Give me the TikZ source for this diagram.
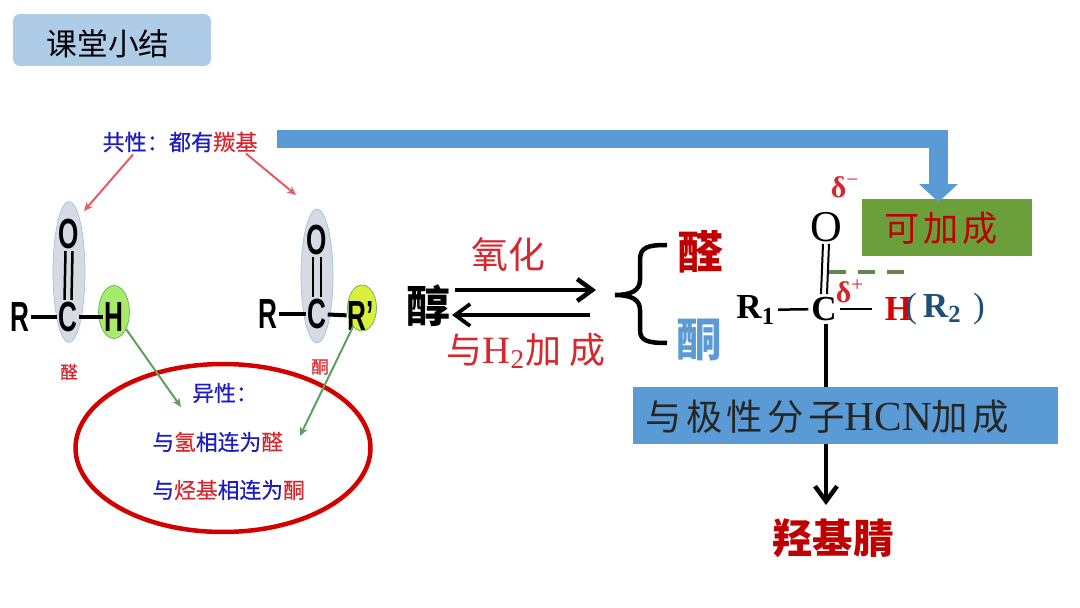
\documentclass[tikz,border=0pt]{standalone}
\usepackage{fontspec}
\setmainfont{Liberation Serif}
\setsansfont{Liberation Sans}
\newfontfamily\cjk{Noto Sans CJK SC}
\newfontfamily\cjkwide[LetterSpace=12]{Noto Sans CJK SC}
\newfontfamily\cjkfat[FakeBold=0.5]{Noto Sans CJK SC}
\usepackage{xcolor}
\usetikzlibrary{arrows.meta, positioning, shapes.geometric, calc}
\definecolor{BarBlue}{HTML}{5B9BD5}
\definecolor{TitleBlue}{HTML}{AECBE8}
\definecolor{BoxGreen}{HTML}{6B9F3C}
\definecolor{DeepRed}{HTML}{C00000}
\definecolor{InkBlue}{HTML}{1C1CC0}
\definecolor{InkRed}{HTML}{D8262E}
\definecolor{HBlue}{HTML}{1F4E79}
\definecolor{OvalGrey}{HTML}{D6DAE2}
\definecolor{LimeH}{HTML}{A8EA6C}
\definecolor{LimeR}{HTML}{D8F03C}
\definecolor{ArrowGreen}{HTML}{5F9F5F}
\definecolor{DashGreen}{HTML}{5F8A4A}

\begin{document}
\begin{tikzpicture}[
  x=0.02cm, y=-0.02cm,
  inner sep=0pt,
  atom/.style={font=\sffamily\fontsize{24}{24}\selectfont\bfseries, xscale=0.62, transform shape, inner sep=1pt},
  oval/.style={ellipse, draw=BarBlue!60, fill=OvalGrey, minimum width=0.64cm, line width=0.4pt},
  note/.style={font=\cjkfat\fontsize{12.4}{16}\selectfont, text=InkBlue},
  atombig/.style={font=\fontsize{20}{20}\selectfont\bfseries, inner sep=1.5pt},
  bond/.style={line width=0.08cm, black},
  thinbond/.style={line width=0.05cm, black},
  redarrow/.style={-{Stealth[length=0.18cm,width=0.16cm]}, line width=0.04cm, InkRed!75},
  greenarrow/.style={-{Stealth[length=0.18cm,width=0.16cm]}, line width=0.04cm, ArrowGreen},
  openarrow/.style={-{Straight Barb[length=0.3cm,width=0.44cm]}, black},
]
\useasboundingbox (0,0) rectangle (1080,608);

% Title
\node[rectangle, rounded corners=0.14cm, fill=TitleBlue, minimum width=3.96cm, minimum height=1.04cm] (title) at (112,40) {};
\node[font=\cjk\fontsize{17.5}{20}\selectfont] (titletext) at (108,44) {课堂小结};

% Common property
\node[note, font=\cjkfat\fontsize{12.6}{16}\selectfont] (common) at (180,142) {共性：都有\textcolor{InkRed}{羰基}};

% Aldehyde
\node[oval, minimum height=2.82cm] (ovalA) at (69,272) {};
\node[ellipse, draw=green!50!black!60, fill=LimeH, minimum width=0.62cm, minimum height=1.06cm] (circleH) at (114,312) {};
\node[atom] (oA) at (69,234) {O};
\node[atom] (cA) at (68,317) {C};
\node[atom] (rA) at (20,317) {R};
\node[atom] (hA) at (114,317) {H};
\draw[bond] (rA) -- (cA);
\draw[bond] (cA) -- (hA);
\draw[thinbond] ([xshift=-0.07cm]oA.south) -- ([xshift=-0.07cm]cA.north);
\draw[thinbond] ([xshift=0.07cm]oA.south) -- ([xshift=0.07cm]cA.north);
\node[font=\cjkfat\fontsize{10}{12}\selectfont, text=InkRed] (nameA) at (69,372) {醛};

% Ketone
\node[oval, minimum height=2.68cm] (ovalK) at (317,276) {};
\node[ellipse, draw=green!50!black!60, fill=LimeR, minimum width=0.58cm, minimum height=0.92cm] (circleR) at (362,308) {};
\node[atom] (oK) at (317,240) {O};
\node[atom] (cK) at (317,314) {C};
\node[atom] (rK) at (268,314) {R};
\node[atom] (rpK) at (361,316) {R'};
\draw[bond] (rK) -- (cK);
\draw[bond] (cK) -- (rpK);
\draw[thinbond] ([xshift=-0.08cm]oK.south) -- ([xshift=-0.08cm]cK.north);
\draw[thinbond] ([xshift=0.08cm]oK.south) -- ([xshift=0.08cm]cK.north);
\node[font=\cjkfat\fontsize{10}{12}\selectfont, text=InkRed] (nameK) at (320,367) {酮};

% Difference
\node[ellipse, draw=DeepRed!70!red, line width=0.09cm, minimum width=5.9cm, minimum height=3.36cm] (diff) at (223,448) {};
\node[note] (diffhead) at (225,393) {异性：};
\node[note, anchor=west] (diffA) at (152,442) {与\textcolor{InkRed}{氢}相连为\textcolor{InkRed}{醛}};
\node[note, anchor=west] (diffK) at (152,490) {与\textcolor{InkRed}{烃基}相连为\textcolor{InkRed}{酮}};

% Arrows left
\coordinate (tipA) at (84,211);
\coordinate (tipK) at (296,195);
\coordinate (tipH) at (181,407);
\coordinate (tipR) at (300,436);
\draw[redarrow] ([xshift=-0.94cm,yshift=-0.04cm]common.south) -- (tipA);
\draw[redarrow] ([xshift=1.32cm,yshift=-0.02cm]common.south) -- (tipK);
\draw[greenarrow] (circleH) -- (tipH);
\draw[greenarrow] (circleR) -- (tipR);

% Alcohol and the two products
\node[font=\cjk\fontsize{25}{28}\selectfont\bfseries] (alcohol) at (428,306) {醇};
\coordinate (fwdA) at (455,290);
\coordinate (fwdB) at (596,290);
\coordinate (backA) at (590,315);
\coordinate (backB) at (452,315);
\draw[openarrow, line width=0.09cm] (fwdA) -- (fwdB);
\draw[openarrow, line width=0.075cm] (backA) -- (backB);
\node[font=\cjk\fontsize{21}{24}\selectfont, text=InkRed] (oxid) at (508,254) {氧化};
\node[font=\fontsize{22}{24}\selectfont, text=InkRed] (reduc) at (526,351) {{\cjk\fontsize{20.5}{24}\selectfont 与}H\textsubscript{2}{\cjk\fontsize{20.5}{24}\selectfont 加 成}};
\node[font=\cjk\fontsize{26}{28}\selectfont\bfseries, text=DeepRed] (ald) at (700,252) {醛};
\node[font=\cjk\fontsize{26}{28}\selectfont\bfseries, text=BarBlue] (ket) at (699,340) {酮};
\coordinate (braceTop) at (667,245);
\coordinate (braceMid) at (615,295);
\coordinate (braceBot) at (667,343);
\draw[line width=0.09cm] (braceTop) .. controls (648,245) and (640,247) .. (640,260)
  -- (640,280) .. controls (640,290) and (632,295) .. (braceMid)
  .. controls (632,295) and (640,300) .. (640,310)
  -- (640,330) .. controls (640,341) and (648,343) .. (braceBot);

% Carbonyl group
\node[font=\fontsize{25}{25}\selectfont, inner sep=1pt] (oxy) at (826,227) {O};
\node[atombig] (carbon) at (824,309) {C};
\node[atombig, anchor=east] (r1) at (778,310) {R\textsubscript{1}};
\node[atombig, text=red!85!black, anchor=west] (hyd) at (882,309) {H};
\node[font=\fontsize{20}{20}\selectfont, anchor=west, text=HBlue] (r2) at (905,309) {(\,\textbf{R\textsubscript{2}}\,\,)};
\node[font=\fontsize{17}{17}\selectfont\bfseries, text=InkRed] (deltaneg) at (845,187) {δ\textsuperscript{\mdseries −}};
\node[font=\fontsize{17}{17}\selectfont\bfseries, text=InkRed] (deltapos) at (850,291) {δ\textsuperscript{\mdseries +}};
\draw[line width=0.04cm] ([xshift=-0.06cm]oxy.south) -- ([xshift=-0.06cm]carbon.north);
\draw[line width=0.04cm] ([xshift=0.06cm]oxy.south) -- ([xshift=0.06cm]carbon.north);
\draw[line width=0.05cm] (r1) -- (carbon);
\draw[line width=0.05cm] (carbon) -- ([xshift=-0.2cm]hyd.west);
\coordinate (dashA) at (829,272);
\coordinate (dashB) at (905,272);
\draw[line width=0.08cm, dash pattern=on 0.34cm off 0.24cm, DashGreen] (dashA) -- (dashB);

% Addition
\node[rectangle, fill=BoxGreen, minimum width=3.4cm, minimum height=1.14cm] (addbox) at (947,227.5) {};
\node[font=\cjkwide\fontsize{20}{22}\selectfont, text=DeepRed] (addtext) at (941,228) {可加成};
\coordinate (barStart) at (277,139);
\coordinate (barTip) at (938.5,202);
\draw[-{Triangle[length=0.36cm,width=0.76cm]}, line width=0.37cm, BarBlue] (barStart) -| (barTip);

% Polar addition
\node[font=\cjk\fontsize{23}{25}\selectfont\bfseries, text=DeepRed] (product) at (833,538) {羟基腈};
\coordinate (downTip) at (826,505);
\draw[-{Straight Barb[length=0.3cm,width=0.44cm]}, line width=0.09cm] (carbon.south -| downTip) -- (downTip);
\node[rectangle, fill=BarBlue, minimum width=8.5cm, minimum height=1.14cm] (polarbox) at (845.5,415.5) {};
\node[font=\fontsize{23.5}{24}\selectfont, text=black!85, anchor=west] (polartext) at (645,417) {{\cjkwide\fontsize{20.7}{24}\selectfont 与极性分子}HCN{\cjkwide\fontsize{20.7}{24}\selectfont 加成}};

\end{tikzpicture}
\end{document}
